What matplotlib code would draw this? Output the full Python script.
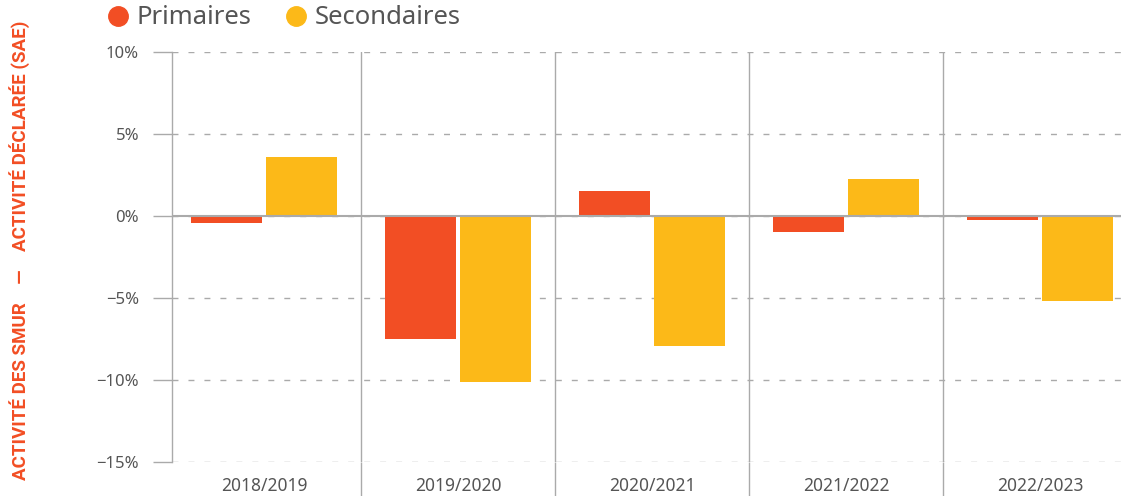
import matplotlib.pyplot as plt
from matplotlib.lines import Line2D
from matplotlib.ticker import FixedLocator, FuncFormatter
import numpy as np

# Données (variation annuelle, en %)
annees = ["2018/2019", "2019/2020", "2020/2021", "2021/2022", "2022/2023"]
primaires = [-0.4, -7.5, 1.5, -1.0, -0.25]
secondaires = [3.6, -10.1, -7.9, 2.25, -5.2]
yticks = [10, 5, 0, -5, -10, -15]

ORANGE = "#F24E24"
JAUNE = "#FCB918"
GRIS = "#AAAAAA"
TEXTE = "#555555"

plt.rcParams["font.family"] = ["Noto Sans", "DejaVu Sans"]

fig = plt.figure(figsize=(11.21, 4.96), dpi=100)
ax = fig.add_axes([172 / 1121, 1 - 462 / 496, 1 - 172 / 1121, (462 - 52) / 496])

x = np.arange(len(annees))
w = 0.366
off = 0.193
ax.bar(x - off, primaires, width=w, color=ORANGE, zorder=2)
ax.bar(x + off, secondaires, width=w, color=JAUNE, zorder=2)

ax.set_xlim(-0.474, 4.418)
ax.set_ylim(-15, 10)

# axe Y
ax.yaxis.set_major_locator(FixedLocator(yticks))
ax.yaxis.set_major_formatter(FuncFormatter(lambda v, p: f"{v:.0f}%".replace("-", "\u2212")))
ax.tick_params(axis="y", length=13.7, width=1, color=GRIS, pad=10, labelsize=12, labelcolor=TEXTE)
ax.grid(axis="y", which="major", color=GRIS, lw=1, linestyle=(0, (4.3, 7.2)), zorder=1)
ax.axhline(0, color=GRIS, lw=1.5, zorder=3)

# axe X : libellés + séparateurs entre années
ax.set_xticks(x)
ax.set_xticklabels(annees)
ax.xaxis.set_minor_locator(FixedLocator(x[:-1] + 0.5))
ax.tick_params(axis="x", which="major", length=0, pad=11, labelsize=12.5, labelcolor=TEXTE)
ax.tick_params(axis="x", which="minor", length=24.5, width=1, color=GRIS)
ax.grid(axis="x", which="minor", color=GRIS, lw=1, linestyle="-", zorder=1)

for s in ["top", "right", "bottom"]:
    ax.spines[s].set_visible(False)
ax.spines["left"].set_color(GRIS)
ax.spines["left"].set_linewidth(1)

# légende
handles = [
    Line2D([], [], marker="o", ls="none", color=ORANGE, markersize=14, label="Primaires"),
    Line2D([], [], marker="o", ls="none", color=JAUNE, markersize=14, label="Secondaires"),
]
leg = fig.legend(handles=handles, loc="center left", bbox_to_anchor=(92 / 1121, 1 - 18 / 496),
                 ncol=2, frameon=False, fontsize=18.5, handletextpad=0.15, columnspacing=1.1,
                 borderaxespad=0, handlelength=1.2)
for t in leg.get_texts():
    t.set_color(TEXTE)

# titre vertical
fig.text(20 / 1121, 1 - 250 / 496, "ACTIVITÉ DES SMUR    —    ACTIVITÉ DÉCLARÉE (SAE)",
         rotation=90, ha="center", va="center", color=ORANGE, fontsize=13.5, fontweight="bold",
         family=["Liberation Sans Narrow", "Roboto", "DejaVu Sans"])

fig.savefig("out.png", dpi=100)
